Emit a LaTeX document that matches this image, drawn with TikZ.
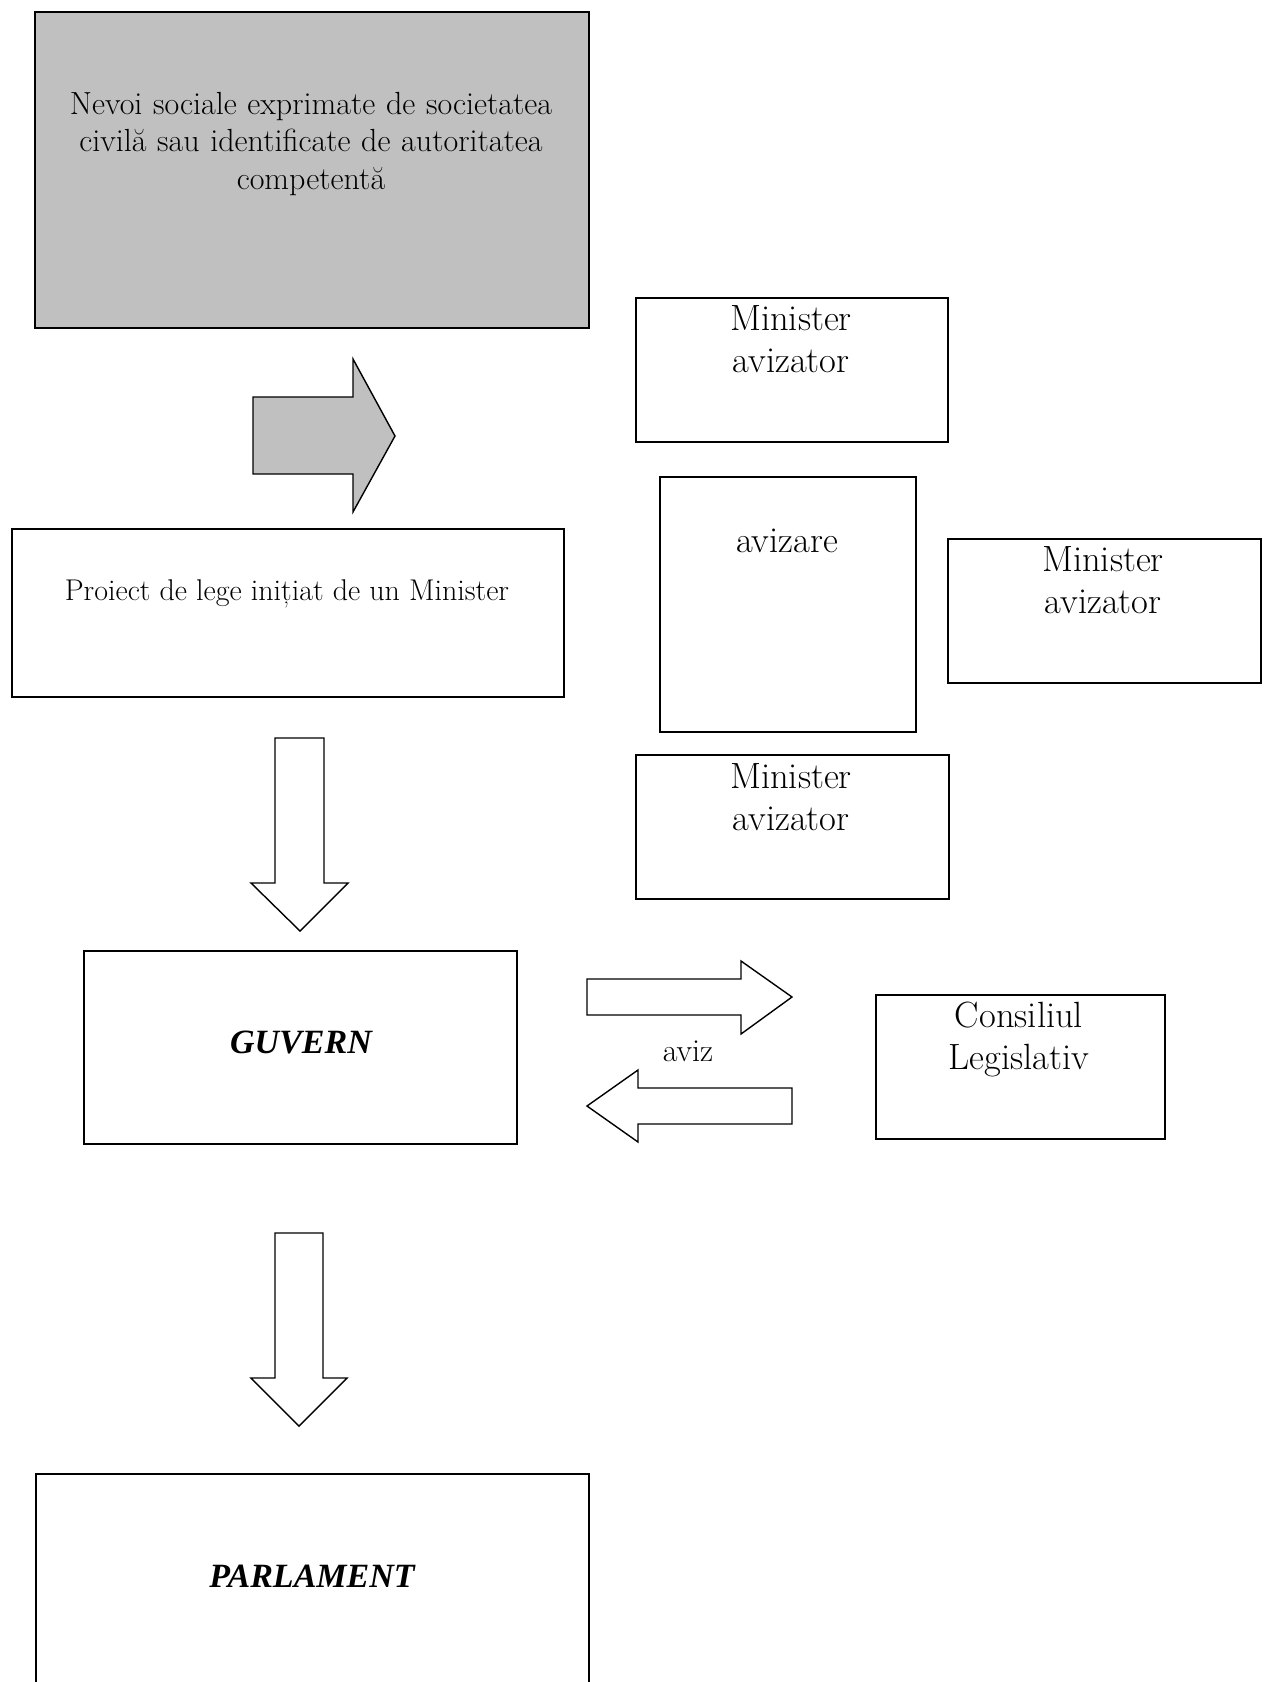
\documentclass[tikz,border=0pt]{standalone}
\usepackage{fontspec}
\newfontfamily\timesf{Liberation Serif}
\definecolor{silverg}{RGB}{192,192,192}
\begin{document}
\begin{tikzpicture}[x=1pt,y=-1pt,
  box/.style={draw=black, line width=1.6pt, inner sep=0pt, anchor=north west},
  blockarrow/.style={draw=black, line width=1.4pt, line join=miter},
  txt/.style={inner sep=0pt, anchor=base, align=center},
  big/.style={font=\fontsize{36.5}{42}\selectfont},
  mid/.style={font=\fontsize{32}{37.5}\selectfont},
  pro/.style={font=\fontsize{30}{36}\selectfont},
  bold/.style={font=\fontsize{34}{40}\timesf\bfseries\itshape}]
\useasboundingbox (0,0) rectangle (1266,1682);
\clip (0,0) rectangle (1266,1682);
\fill[white] (0,0) rectangle (1266,1682);

% boxes
\node[box, fill=silverg, minimum width=554pt, minimum height=316pt] (needs) at (34,11) {};
\node[box, minimum width=552pt, minimum height=168pt] (proiect) at (11,528) {};
\node[box, minimum width=433pt, minimum height=193pt] (guvern) at (83,950) {};
\node[box, minimum width=553pt, minimum height=240pt] (parlament) at (35,1473) {};
\node[box, minimum width=312pt, minimum height=144pt] (min1) at (635,297) {};
\node[box, minimum width=256pt, minimum height=255pt] (avizare) at (659,476) {};
\node[box, minimum width=313pt, minimum height=144pt] (min2) at (947,538) {};
\node[box, minimum width=313pt, minimum height=144pt] (min3) at (635,754) {};
\node[box, minimum width=289pt, minimum height=144pt] (consiliu) at (875,994) {};

% texts
\node[txt, mid, text width=540pt] (tneeds) at (311,114) {Nevoi sociale exprimate de societatea\\ civilă sau identificate de autoritatea\\ competentă};
\node[txt, pro] (tproiect) at (287,600) {Proiect de lege inițiat de un Minister};
\node[txt, big, text width=300pt] (tmin1) at (791,330) {Minister\\ avizator};
\node[txt, big] (tavizare) at (787,552) {avizare};
\node[txt, big, text width=300pt] (tmin2) at (1103,571) {Minister\\ avizator};
\node[txt, big, text width=300pt] (tmin3) at (791,788) {Minister\\ avizator};
\node[txt, big, text width=285pt] (tcons) at (1019,1027) {Consiliul\\ Legislativ};
\node[txt, bold] (tguvern) at (301,1053) {GUVERN};
\node[txt, mid] (taviz) at (688,1061) {aviz};
\node[txt, bold] (tparl) at (312,1587) {PARLAMENT};

% block arrows
\draw[blockarrow, fill=silverg] (253,397) -- (353,397) -- (353,359) -- (395,436) -- (353,512) -- (353,474) -- (253,474) -- cycle;
\draw[blockarrow, fill=white] (275,738) -- (324,738) -- (324,883) -- (348,883) -- (300,931) -- (251,883) -- (275,883) -- cycle;
\draw[blockarrow, fill=white] (275,1233) -- (323,1233) -- (323,1378) -- (347,1378) -- (299,1426) -- (251,1378) -- (275,1378) -- cycle;
\draw[blockarrow, fill=white] (587,979) -- (741,979) -- (741,961) -- (792,997) -- (741,1034) -- (741,1015) -- (587,1015) -- cycle;
\draw[blockarrow, fill=white] (792,1088) -- (638,1088) -- (638,1070) -- (587,1106) -- (638,1142) -- (638,1124) -- (792,1124) -- cycle;
\end{tikzpicture}
\end{document}
